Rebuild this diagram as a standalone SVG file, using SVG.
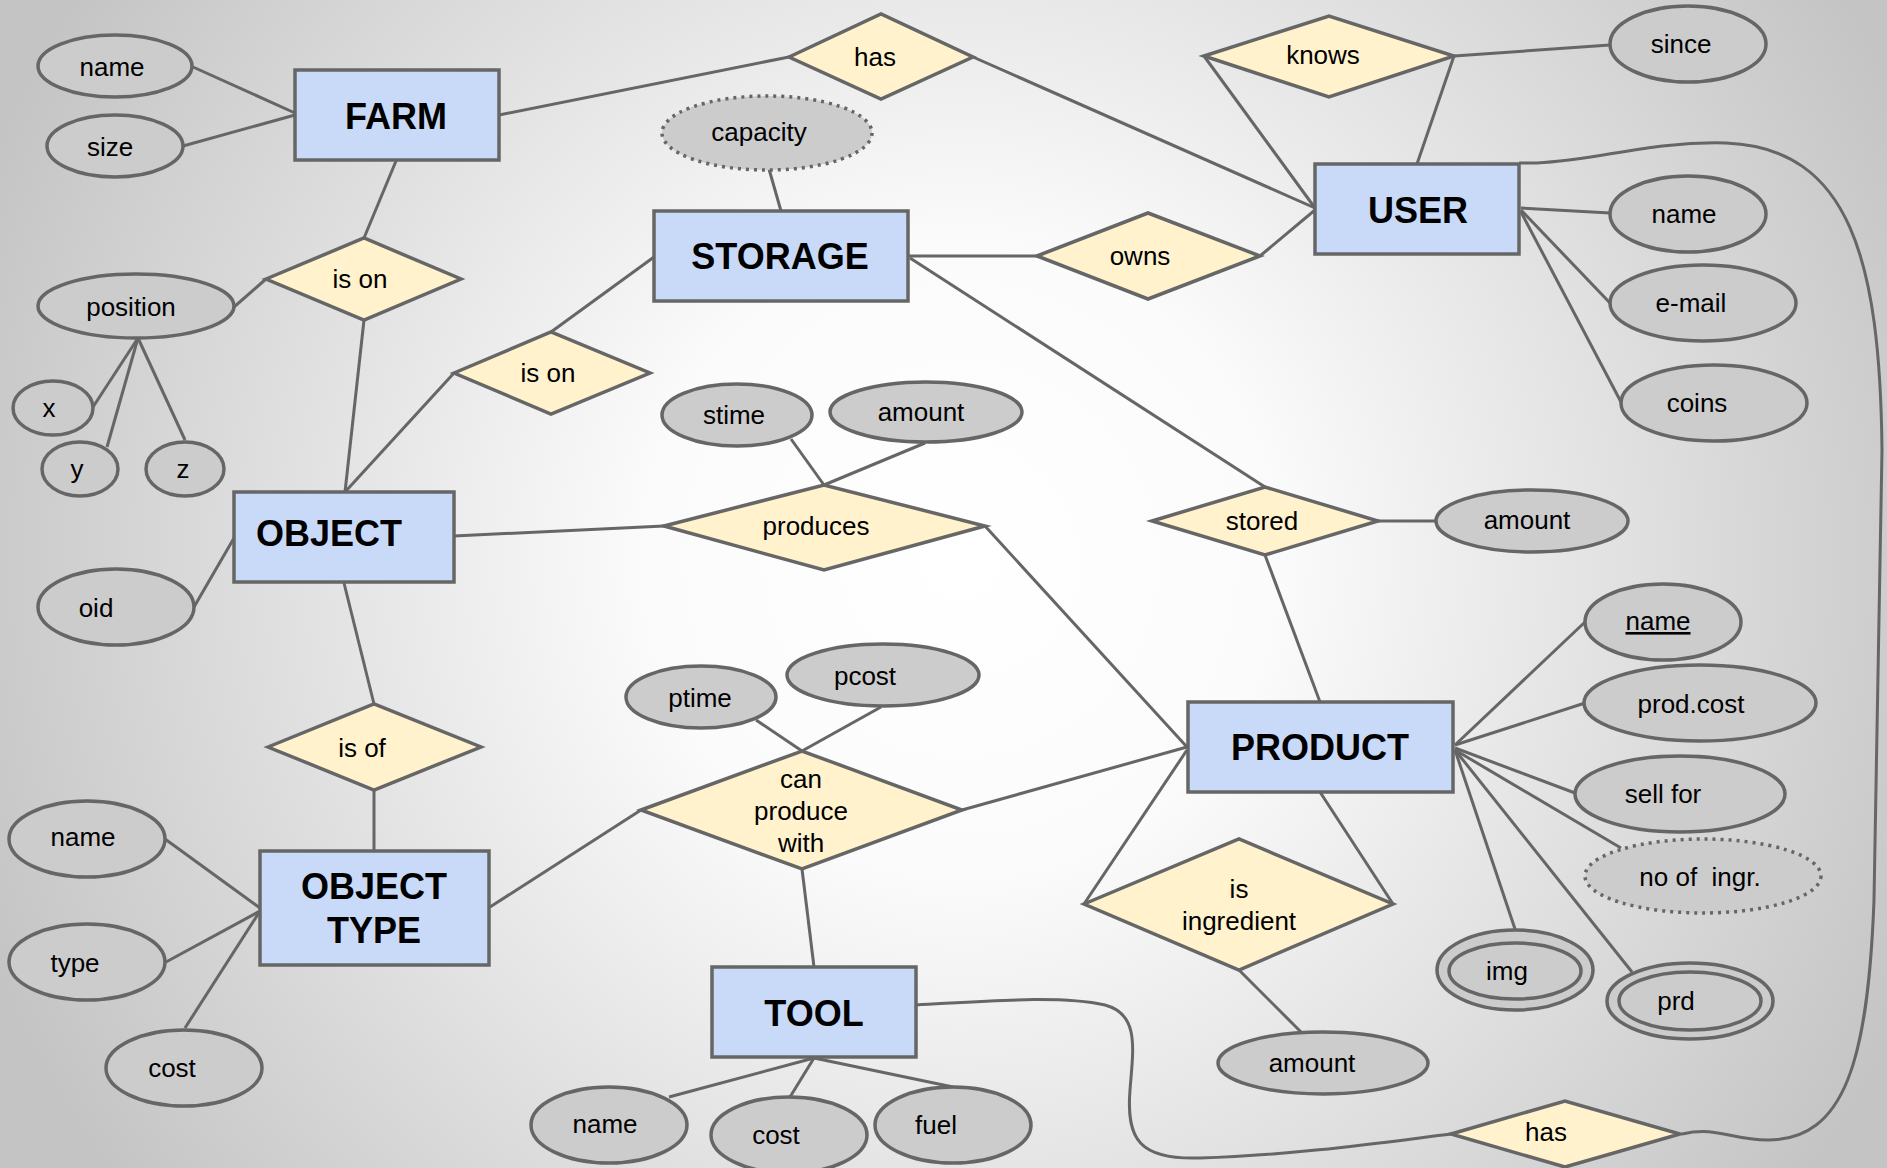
<svg xmlns="http://www.w3.org/2000/svg" width="1887" height="1168" viewBox="0 0 1887 1168">
  <defs>
    <radialGradient id="bg" gradientUnits="userSpaceOnUse" cx="960" cy="560" r="1050">
      <stop offset="0" stop-color="#ffffff"/>
      <stop offset="0.3" stop-color="#fbfbfb"/>
      <stop offset="1" stop-color="#c4c4c4"/>
    </radialGradient>
  </defs>
  <style>
    .ent rect { fill: #c9daf8; stroke: #666666; stroke-width: 3.5; }
    .ent text { font-family: "Liberation Sans", Arial, sans-serif; font-weight: bold; font-size: 36px; fill: #000; text-anchor: middle; }
    .rel polygon { fill: #fff2cc; stroke: #666666; stroke-width: 3.5; stroke-linejoin: miter; }
    .att ellipse { fill: #cccccc; stroke: #666666; stroke-width: 3.5; }
    .att ellipse.dot { stroke-dasharray: 3 5; }
    .rel text, .att text { font-family: "Liberation Sans", Arial, sans-serif; font-size: 26px; fill: #000; text-anchor: middle; }
    #connectors line, #connectors path { stroke: #666666; stroke-width: 3; fill: none; }
  </style>

  <rect x="0" y="0" width="1887" height="1168" fill="url(#bg)"/>

  <g id="connectors">
    <line x1="193" y1="67" x2="295" y2="113"/>
    <line x1="183" y1="146" x2="295" y2="115"/>
    <line x1="499" y1="115" x2="789" y2="57"/>
    <line x1="973" y1="57" x2="1315" y2="208"/>
    <line x1="396" y1="161" x2="364" y2="238"/>
    <line x1="234" y1="307" x2="266" y2="279"/>
    <line x1="364" y1="320" x2="345" y2="492"/>
    <line x1="138" y1="338" x2="93" y2="407"/>
    <line x1="138" y1="338" x2="107" y2="447"/>
    <line x1="138" y1="338" x2="185" y2="440"/>
    <line x1="654" y1="257" x2="551" y2="332"/>
    <line x1="454" y1="373" x2="345" y2="492"/>
    <line x1="769" y1="169" x2="781" y2="211"/>
    <line x1="908" y1="256" x2="1037" y2="256"/>
    <line x1="1260" y1="256" x2="1315" y2="210"/>
    <line x1="1204" y1="56" x2="1315" y2="208"/>
    <line x1="1454" y1="56" x2="1417" y2="164"/>
    <line x1="1454" y1="56" x2="1610" y2="45"/>
    <line x1="1521" y1="208" x2="1610" y2="213"/>
    <line x1="1521" y1="210" x2="1610" y2="303"/>
    <line x1="1521" y1="212" x2="1621" y2="402"/>
    <line x1="910" y1="258" x2="1265" y2="487"/>
    <line x1="1378" y1="521" x2="1437" y2="521"/>
    <line x1="1265" y1="555" x2="1320" y2="702"/>
    <line x1="194" y1="607" x2="234" y2="538"/>
    <line x1="454" y1="536" x2="664" y2="526"/>
    <line x1="791" y1="439" x2="824" y2="485"/>
    <line x1="925" y1="443" x2="824" y2="485"/>
    <line x1="985" y1="526" x2="1187" y2="747"/>
    <line x1="344" y1="583" x2="374" y2="704"/>
    <line x1="374" y1="790" x2="374" y2="851"/>
    <line x1="165" y1="839" x2="260" y2="908"/>
    <line x1="166" y1="962" x2="260" y2="911"/>
    <line x1="185" y1="1028" x2="260" y2="911"/>
    <line x1="490" y1="907" x2="641" y2="810"/>
    <line x1="756" y1="720" x2="802" y2="751"/>
    <line x1="881" y1="707" x2="802" y2="751"/>
    <line x1="962" y1="810" x2="1187" y2="747"/>
    <line x1="802" y1="869" x2="814" y2="967"/>
    <line x1="814" y1="1058" x2="669" y2="1097"/>
    <line x1="814" y1="1058" x2="790" y2="1097"/>
    <line x1="814" y1="1058" x2="953" y2="1087"/>
    <line x1="1187" y1="750" x2="1084" y2="904"/>
    <line x1="1320" y1="792" x2="1393" y2="904"/>
    <line x1="1239" y1="970" x2="1301" y2="1032"/>
    <line x1="1455" y1="745" x2="1585" y2="622"/>
    <line x1="1455" y1="745" x2="1585" y2="703"/>
    <line x1="1455" y1="748" x2="1575" y2="793"/>
    <line x1="1455" y1="750" x2="1621" y2="848"/>
    <line x1="1455" y1="750" x2="1515" y2="929"/>
    <line x1="1455" y1="750" x2="1632" y2="972"/>
    <!-- TOOL to the lower "has" relation -->
    <path d="M916,1005 C990,1001 1060,995 1105,1005 C1140,1014 1133,1050 1130,1090 C1126,1140 1140,1160 1200,1158 C1300,1155 1400,1140 1451,1134"/>
    <!-- USER to the lower "has" relation, around the right edge -->
    <path d="M1519,163 L1537,163 C1600,160 1650,141 1726,143 C1850,148 1880,260 1882,450 L1874,900 C1868,1060 1845,1140 1768,1140 C1730,1140 1718,1126 1682,1134"/>
  </g>

  <!-- entities -->
  <g id="farm" class="ent"><rect x="295" y="70" width="204" height="90"/><text x="396" y="129">FARM</text></g>
  <g id="storage" class="ent"><rect x="654" y="211" width="254" height="90"/><text x="780" y="269">STORAGE</text></g>
  <g id="user" class="ent"><rect x="1315" y="164" width="204" height="90"/><text x="1418" y="223">USER</text></g>
  <g id="object" class="ent"><rect x="234" y="492" width="220" height="90"/><text x="329" y="546">OBJECT</text></g>
  <g id="product" class="ent"><rect x="1188" y="702" width="265" height="90"/><text x="1320" y="760">PRODUCT</text></g>
  <g id="object-type" class="ent"><rect x="260" y="851" width="229" height="114"/><text x="374" y="899">OBJECT</text><text x="374" y="943">TYPE</text></g>
  <g id="tool" class="ent"><rect x="712" y="967" width="204" height="90"/><text x="814" y="1026">TOOL</text></g>

  <!-- relationships -->
  <g id="rel-has-farm" class="rel"><polygon points="789,57 881,14 973,57 881,99"/><text x="875" y="66">has</text></g>
  <g id="rel-is-on-farm" class="rel"><polygon points="266,279 364,238 461,279 364,320"/><text x="360" y="288">is on</text></g>
  <g id="rel-is-on-storage" class="rel"><polygon points="454,373 551,332 650,373 551,414"/><text x="548" y="382">is on</text></g>
  <g id="rel-owns" class="rel"><polygon points="1037,256 1148,213 1260,256 1148,299"/><text x="1140" y="265">owns</text></g>
  <g id="rel-knows" class="rel"><polygon points="1204,56 1329,16 1454,56 1329,97"/><text x="1323" y="64">knows</text></g>
  <g id="rel-produces" class="rel"><polygon points="664,526 824,485 985,526 824,570"/><text x="816" y="535">produces</text></g>
  <g id="rel-stored" class="rel"><polygon points="1152,521 1265,487 1378,521 1265,555"/><text x="1262" y="530">stored</text></g>
  <g id="rel-is-of" class="rel"><polygon points="268,747 374,704 481,747 374,790"/><text x="362" y="757">is of</text></g>
  <g id="rel-can-produce" class="rel"><polygon points="641,810 802,751 962,810 802,869"/><text x="801" y="788">can</text><text x="801" y="820">produce</text><text x="801" y="852">with</text></g>
  <g id="rel-ingredient" class="rel"><polygon points="1084,904 1239,839 1393,904 1239,970"/><text x="1239" y="898">is</text><text x="1239" y="930">ingredient</text></g>
  <g id="rel-has-tool" class="rel"><polygon points="1451,1134 1565,1101 1680,1134 1565,1167"/><text x="1546" y="1141">has</text></g>

  <!-- attributes -->
  <g id="farm-name" class="att"><ellipse cx="115" cy="66" rx="77" ry="31"/><text x="112" y="76">name</text></g>
  <g id="farm-size" class="att"><ellipse cx="115" cy="146" rx="68" ry="31"/><text x="110" y="156">size</text></g>
  <g id="position" class="att"><ellipse cx="136" cy="306" rx="98" ry="32"/><text x="131" y="316">position</text></g>
  <g id="pos-x" class="att"><ellipse cx="53" cy="408" rx="40" ry="27"/><text x="49" y="417">x</text></g>
  <g id="pos-y" class="att"><ellipse cx="80" cy="469" rx="38" ry="27"/><text x="77" y="478">y</text></g>
  <g id="pos-z" class="att"><ellipse cx="185" cy="469" rx="39" ry="27"/><text x="183" y="478">z</text></g>
  <g id="oid" class="att"><ellipse cx="116" cy="607" rx="78" ry="38"/><text x="96" y="617">oid</text></g>
  <g id="capacity" class="att"><ellipse class="dot" cx="767" cy="133" rx="105" ry="37"/><text x="759" y="141">capacity</text></g>
  <g id="since" class="att"><ellipse cx="1688" cy="44" rx="78" ry="38"/><text x="1681" y="53">since</text></g>
  <g id="user-name" class="att"><ellipse cx="1688" cy="214" rx="78" ry="38"/><text x="1684" y="223">name</text></g>
  <g id="user-email" class="att"><ellipse cx="1703" cy="303" rx="93" ry="38"/><text x="1691" y="312">e-mail</text></g>
  <g id="user-coins" class="att"><ellipse cx="1714" cy="403" rx="93" ry="38"/><text x="1697" y="412">coins</text></g>
  <g id="stime" class="att"><ellipse cx="737" cy="415" rx="75" ry="31"/><text x="734" y="424">stime</text></g>
  <g id="prod-amount" class="att"><ellipse cx="926" cy="412" rx="96" ry="30"/><text x="921" y="421">amount</text></g>
  <g id="stored-amount" class="att"><ellipse cx="1532" cy="521" rx="96" ry="31"/><text x="1527" y="529">amount</text></g>
  <g id="ptime" class="att"><ellipse cx="701" cy="697" rx="75" ry="31"/><text x="700" y="707">ptime</text></g>
  <g id="pcost" class="att"><ellipse cx="883" cy="675" rx="96" ry="31"/><text x="865" y="685">pcost</text></g>
  <g id="ot-name" class="att"><ellipse cx="87" cy="839" rx="78" ry="38"/><text x="83" y="846">name</text></g>
  <g id="ot-type" class="att"><ellipse cx="87" cy="962" rx="78" ry="38"/><text x="75" y="972">type</text></g>
  <g id="ot-cost" class="att"><ellipse cx="184" cy="1068" rx="78" ry="38"/><text x="172" y="1077">cost</text></g>
  <g id="tool-name" class="att"><ellipse cx="609" cy="1125" rx="78" ry="38"/><text x="605" y="1133">name</text></g>
  <g id="tool-cost" class="att"><ellipse cx="789" cy="1135" rx="78" ry="38"/><text x="776" y="1144">cost</text></g>
  <g id="tool-fuel" class="att"><ellipse cx="953" cy="1125" rx="78" ry="38"/><text x="936" y="1134">fuel</text></g>
  <g id="product-name" class="att"><ellipse cx="1663" cy="622" rx="78" ry="38"/><text x="1658" y="630" text-decoration="underline">name</text></g>
  <g id="product-cost" class="att"><ellipse cx="1700" cy="703" rx="116" ry="38"/><text x="1691" y="713">prod.cost</text></g>
  <g id="sell-for" class="att"><ellipse cx="1680" cy="794" rx="105" ry="38"/><text x="1663" y="803">sell for</text></g>
  <g id="no-of-ingr" class="att"><ellipse class="dot" cx="1703" cy="876" rx="118" ry="37"/><text x="1700" y="886" xml:space="preserve">no of  ingr.</text></g>
  <g id="img" class="att"><ellipse cx="1515" cy="970" rx="78" ry="40"/><ellipse cx="1515" cy="971" rx="66" ry="28"/><text x="1507" y="980">img</text></g>
  <g id="prd" class="att"><ellipse cx="1690" cy="1001" rx="83" ry="38"/><ellipse cx="1690" cy="1001" rx="71" ry="29"/><text x="1676" y="1010">prd</text></g>
  <g id="ingr-amount" class="att"><ellipse cx="1323" cy="1063" rx="105" ry="31"/><text x="1312" y="1072">amount</text></g>
</svg>
